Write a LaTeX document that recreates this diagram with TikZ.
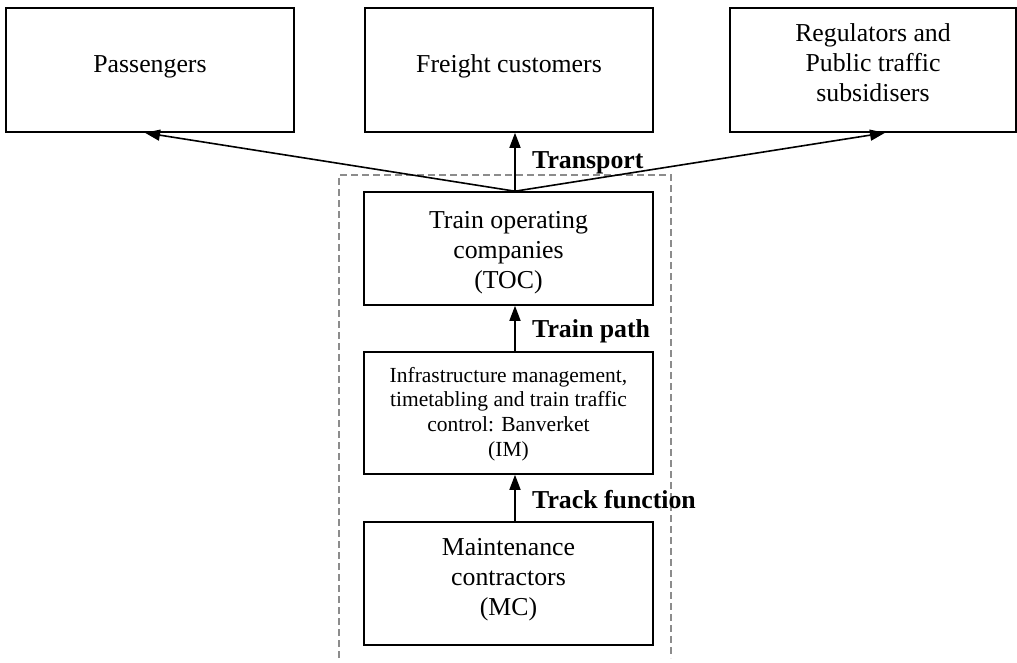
\documentclass[tikz,border=0pt]{standalone}
\usepackage{fontspec}
\setmainfont{Liberation Serif}
\usetikzlibrary{arrows.meta}
\begin{document}
\begin{tikzpicture}[x=1pt,y=-1pt,
  box/.style={draw, line width=1.6pt, inner sep=0pt, minimum width=288pt},
  big/.style={font=\fontsize{25.8}{30}\selectfont, align=center, inner sep=0pt},
  small/.style={font=\fontsize{21.5}{24.7}\selectfont, align=center, inner sep=0pt},
  lbl/.style={font=\fontsize{25.8}{30}\selectfont\bfseries, inner sep=0pt, anchor=base west},
  conn/.style={line width=1.6pt, -{Triangle[length=15pt,width=11pt]}},
  frame/.style={draw=black!45, line width=1.3pt, dash pattern=on 7pt off 4pt}]
\useasboundingbox (0,0) rectangle (1017,662);
% frame
\draw[frame] (339,658) -- (339,175) -- (671,175) -- (671,658);
% top boxes
\node[box, minimum height=124pt] (pass) at (150,70) {};
\node[box, minimum height=124pt] (frt) at (509,70) {};
\node[box, minimum height=124pt, minimum width=286pt] (reg) at (873,70) {};
\node[big, anchor=base] (passT) at (150,72) {Passengers};
\node[big, anchor=base] (frtT) at (509,72) {Freight customers};
\node[big] (regT) at (873,63) {Regulators and\\Public traffic\\subsidisers};
% stack
\node[box, minimum width=289pt, minimum height=113pt] (toc) at (508.5,248.5) {};
\node[big, text depth=0pt] (tocT) at (508.5,250) {\fontsize{25.8}{29}\selectfont Train operating\\companies\\(TOC)};
\node[box, minimum width=289pt, minimum height=122pt] (im) at (508.5,413) {};
\node[small] (imT) at (508.5,414) {Infrastructure management,\\timetabling and train traffic\\control: Banverket\\(IM)};
\node[box, minimum width=289pt, minimum height=123pt] (mc) at (508.5,583.5) {};
\node[big] (mcT) at (508.5,580) {Maintenance\\contractors\\(MC)};
% connectors
\coordinate (src) at ([xshift=6.5pt]toc.north);
\draw[conn] (src) -- ([xshift=-5pt]pass.south);
\draw[conn] (src) -- ([xshift=6pt]frt.south);
\draw[conn] (src) -- ([xshift=12pt]reg.south);
\draw[conn] ([xshift=6.5pt]im.north) -- ([xshift=6.5pt]toc.south);
\draw[conn] ([xshift=6.5pt]mc.north) -- ([xshift=6.5pt]im.south);
% labels
\node[lbl] (l1) at (532,168) {Transport};
\node[lbl] (l2) at (532,337) {Train path};
\node[lbl] (l3) at (532,508) {Track function};
\end{tikzpicture}
\end{document}
